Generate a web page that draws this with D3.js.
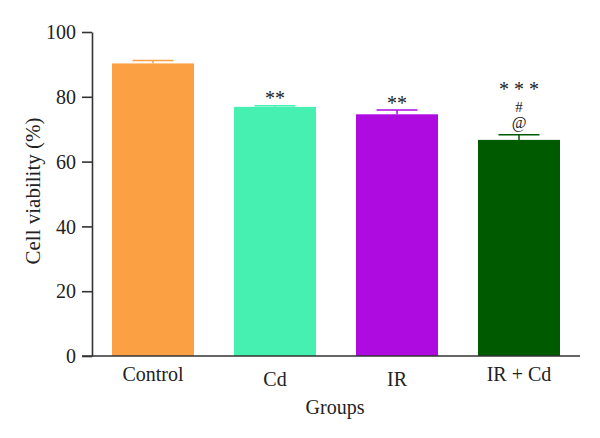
<!DOCTYPE html>
<html>
<head>
<meta charset="utf-8">
<script src="https://d3js.org/d3.v7.min.js"></script>
<style>
  html, body { margin: 0; padding: 0; background: #fff; }
  svg { display: block; }
  text { font-family: "Liberation Serif", "DejaVu Serif", serif; fill: #222; }
</style>
</head>
<body>
<svg id="chart" width="600" height="438"></svg>
<script>
const groups = ["Control", "Cd", "IR", "IR + Cd"];
const viability = [90.3, 76.9, 74.6, 66.7];
const errors = [0.9, 0.3, 1.3, 1.6];
const colors = ["#FBA143", "#45F0B1", "#AD0BE0", "#005A00"];
const starMarks = ["", "**", "**", "* * *"];
const hashMarks = ["", "", "", "#"];
const atMarks = ["", "", "", "@"];
const yTicks = [0, 20, 40, 60, 80, 100];

const svg = d3.select("#chart");
const axisColor = "#333";

const x = d3.scaleBand().domain(groups).range([92, 580]).paddingInner(0.328).paddingOuter(0.164);
const y = d3.scaleLinear().domain([0, 100]).range([356, 32]);

// bars
svg.selectAll("rect.bar").data(groups).join("rect")
  .attr("class", "bar")
  .attr("x", d => x(d))
  .attr("width", x.bandwidth())
  .attr("y", (d, i) => y(viability[i]))
  .attr("height", (d, i) => y(0) - y(viability[i]))
  .attr("fill", (d, i) => colors[i]);

// error bars (upward only)
const capHalf = x.bandwidth() / 4;
groups.forEach((g, i) => {
  const cx = x(g) + x.bandwidth() / 2;
  const top = y(viability[i] + errors[i]);
  svg.append("line").attr("x1", cx).attr("x2", cx)
    .attr("y1", y(viability[i])).attr("y2", top)
    .attr("stroke", colors[i]).attr("stroke-width", 1.5);
  svg.append("line").attr("x1", cx - capHalf).attr("x2", cx + capHalf)
    .attr("y1", top).attr("y2", top)
    .attr("stroke", colors[i]).attr("stroke-width", 1.5);
});

// significance annotations
groups.forEach((g, i) => {
  const cx = x(g) + x.bandwidth() / 2;
  const top = y(viability[i] + errors[i]);
  const stacked = hashMarks[i] !== "";
  if (atMarks[i]) {
    svg.append("text").attr("x", cx).attr("y", top - 6.8)
      .attr("text-anchor", "middle").style("font-size", "16px").text(atMarks[i]);
  }
  if (hashMarks[i]) {
    svg.append("text").attr("x", cx).attr("y", top - 22.4)
      .attr("text-anchor", "middle").style("font-size", "15px").text(hashMarks[i]);
  }
  if (starMarks[i]) {
    svg.append("text").attr("x", cx).attr("y", stacked ? top - 38.5 : top - 0.5)
      .attr("text-anchor", "middle").style("font-size", "20px").text(starMarks[i]);
  }
});

// y axis
const yAxis = d3.axisLeft(y).tickValues(yTicks).tickSize(10).tickPadding(6).tickSizeOuter(0);
const gy = svg.append("g").attr("transform", "translate(92,0)").call(yAxis);
gy.select(".domain").attr("stroke", axisColor).attr("stroke-width", 1.6);
gy.selectAll(".tick line").attr("stroke", axisColor).attr("stroke-width", 1.6);
gy.selectAll(".tick text").style("font-size", "20px").style("font-family", "Liberation Serif, serif").attr("fill", "#222").attr("dy", "0.33em");

// x axis line
svg.append("line").attr("x1", 82).attr("x2", 580).attr("y1", y(0)).attr("y2", y(0))
  .attr("stroke", axisColor).attr("stroke-width", 1.6);

// x labels (staggered)
const xOffsets = [381, 386, 386, 381];
groups.forEach((g, i) => {
  svg.append("text")
    .attr("x", x(g) + x.bandwidth() / 2)
    .attr("y", xOffsets[i])
    .attr("text-anchor", "middle")
    .style("font-size", "20px")
    .text(g);
});

// axis titles
svg.append("text").attr("x", 335).attr("y", 414).attr("text-anchor", "middle")
  .style("font-size", "20px").text("Groups");
svg.append("text").attr("transform", "translate(40,191) rotate(-90)")
  .attr("text-anchor", "middle").style("font-size", "21px").text("Cell viability (%)");
</script>
</body>
</html>
